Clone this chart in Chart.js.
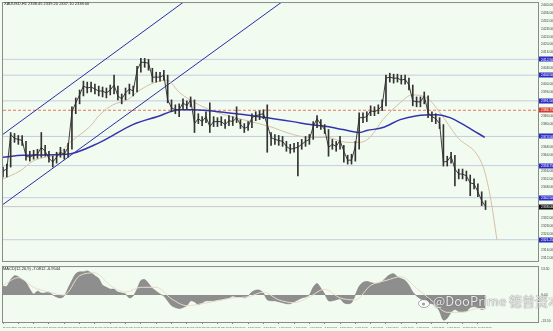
<!DOCTYPE html>
<html><head><meta charset="utf-8">
<script src="https://cdn.jsdelivr.net/npm/chart.js@4.4.1/dist/chart.umd.min.js"></script>
<style>
html,body{margin:0;padding:0;background:#f2fbef;width:553px;height:331px;overflow:hidden;position:relative;font-family:"Liberation Sans",sans-serif;}
canvas{position:absolute;left:0;}
#c1{top:0;}
#c2{top:264px;}
.lbl{position:absolute;font-size:4px;line-height:4px;color:#222;white-space:nowrap;}
#wm{position:absolute;left:418px;top:294px;font-family:"Noto Sans CJK SC","Liberation Sans",sans-serif;font-size:13px;line-height:14px;color:rgba(255,255,255,0.85);text-shadow:0 0 1px rgba(90,90,90,0.8),0 0 1px rgba(90,90,90,0.6);white-space:nowrap;}
#wm svg{vertical-align:-2px;margin-right:2px;}
</style></head>
<body>
<canvas id="c1" width="553" height="264"></canvas>
<canvas id="c2" width="553" height="67"></canvas>
<div class="lbl" style="left:4px;top:2px">XAUUSD,H1 2338.45 2339.20 2337.10 2338.00</div>
<div class="lbl" style="left:3px;top:267px">MACD(12,26,9) -7.0812 -6.9544</div>
<div id="wm"><svg width="13" height="11" viewBox="0 0 13 11"><ellipse cx="6" cy="6.5" rx="5.5" ry="4" fill="rgba(255,255,255,0.85)" stroke="rgba(90,90,90,0.7)" stroke-width="0.7"/><circle cx="5.5" cy="7" r="1.6" fill="rgba(120,120,120,0.7)"/><path d="M9 1.5 q2.5 0.5 2.8 3" stroke="rgba(90,90,90,0.7)" fill="none"/></svg>@DooPrime 德普资本</div>
<script>
// ---- price data (2-hour steps) ----
const closes=[2356,2357,2374.5,2372.5,2372,2371.5,2363.5,2363,2364,2364.5,
2368,2366,2362.5,2360.5,2363,2365.5,2364.5,2368,2386,2390.5,
2394.5,2399,2398,2398.5,2397.5,2396.5,2396.5,2395.5,2397,2399.5,
2394,2392.5,2395.5,2397.5,2396.5,2407,2411,2411,2410.5,2403.5,
2403.5,2403.5,2404.5,2392,2388,2387,2387,2390.5,2389,2392,
2380,2382.5,2381,2383.5,2378.5,2381,2381,2381,2379.5,2381.5,
2381,2383,2379.5,2377.5,2378.5,2383,2384,2384.5,2385,2379.5,
2373,2372,2371.5,2371,2368.5,2367,2367.5,2368,2369.5,2371,
2372,2378.5,2382.5,2379.5,2377,2368,2369.5,2368.5,2371.5,2366,
2361.5,2361.5,2368.5,2383,2383,2383.5,2386.5,2386,2387,2389,
2403,2403.5,2403,2403,2402,2402.5,2399.5,2391.5,2391,2391,
2394,2385.5,2383.5,2382.5,2380,2360.5,2361,2363.5,2357,2354.5,
2354.5,2353.5,2350,2349.5,2345.5,2341,2338];
const highs=[2358,2359.5,2375.5,2375,2374,2374,2371,2366,2366.5,2367,
2375.5,2369,2366,2363.5,2365.5,2368,2367,2370,2388.5,2393,
2397,2401.5,2401,2401,2400,2399,2398.5,2398,2399.5,2404.5,
2399,2395,2398,2400,2399,2409,2413,2413,2412.5,2408,
2406,2406,2407,2404.5,2392,2389.5,2390,2392.5,2391.5,2393.5,
2392,2385,2383.5,2386,2390.5,2383.5,2383,2383.5,2382,2384,
2383.5,2388.5,2382,2380,2381,2385,2386,2386.5,2387,2389.5,
2375.5,2374.5,2374,2373.5,2371,2369.5,2370,2370.5,2372,2373.5,
2374.5,2381,2384,2382,2379.5,2377,2372,2371,2373.5,2369,
2364,2364.5,2371,2385.5,2385.5,2386,2389,2388.5,2389.5,2392,
2404.5,2405.5,2405,2405,2404.5,2404.5,2403,2399.5,2393.5,2393.5,
2396,2394,2386,2385,2383,2379.5,2363.5,2365.5,2364,2357,
2357,2356,2354,2352,2349.5,2345.5,2341];
const lows=[2353,2353,2358,2370.5,2369.5,2369,2361.5,2361,2362,2362.5,
2363,2363.5,2360.5,2358,2360,2363,2362,2363,2367,2385,
2390,2394,2395.5,2396,2395,2394,2393.5,2393,2394.5,2395,
2392,2390,2392,2395,2394,2396,2406,2408.5,2407,2401,
2401,2401.5,2402,2390.5,2386,2385,2383.5,2387,2387,2388.5,
2375.5,2380,2379,2380.5,2375.5,2378.5,2378.5,2379,2377.5,2379,
2379,2380.5,2377.5,2375.5,2376.5,2378,2381.5,2382,2382.5,2365.5,
2369,2369.5,2369,2368.5,2366,2365,2365.5,2353.5,2367,2368.5,
2369.5,2372,2378,2377,2375,2363.5,2367,2366,2367,2360.5,
2359.5,2359.5,2361,2367,2380.5,2381,2384,2384,2385,2386.5,
2389,2401,2400.5,2401,2400,2400,2397,2389,2388.5,2388.5,
2390,2383,2381,2380,2377.5,2358.5,2358.5,2360,2348.5,2352,
2352,2351,2343.5,2347,2343,2338.5,2336.5];
// ---- moving averages (x in 2-hour bar units) ----
const maX=[0,5.2,16.7,25.3,33.9,40.2,46.2,49.6,58.5,67.1,75.7,80.2,84.6,88.8,93.2,95,99.2,103.7,108.1,113.3,116.7,121.1,125.8];
const maY=[2363,2364,2364.5,2370.5,2379.5,2383.5,2387,2387,2385.5,2383.5,2381,2379.5,2378.5,2377,2375.5,2376.5,2378,2382,2384,2384.5,2383,2378.5,2373];
const tanX=[0,4.4,7.8,14.9,17.5,22.7,25.3,28.7,32.4,35.8,39.2,42.8,46.2,54,62.7,69.7,75.7,80.2,84.6,89.8,93.2,95.8,99.2,103.7,106.8,110.7,114.1,118.5,125.3,127.2,129];
const tanY=[2352,2356,2361,2365.5,2370.5,2378.5,2384.5,2389.5,2392,2397,2400.5,2402,2395.5,2387,2382,2378.5,2374.5,2373,2373,2370.5,2370.5,2373,2382,2390.5,2394.5,2393,2385.5,2373.5,2358.5,2343.5,2321];
// ---- drawn objects ----
const hLevels=[2412.5,2404.5,2391.5,2373.5,2358.75,2342.5,2321.25];
const redLevel=2386.75;
const chanAX=[0,48], chanAY=[2374.6,2442.7];
const chanBX=[0,74], chanBY=[2339.1,2443.2];
// ---- oscillator ----
const osc=[4.5,4.5,8,10,9.5,8,6.5,3,0.5,2,
1,1,1.5,0,-1,-1.5,-0.5,3.5,7.5,11,
12,12,12.5,11.5,10,8.5,5,4,3,3,
1.5,1,0.5,-1.5,-0.5,3,7.5,8,6,3.5,
2,0.5,-0.5,-3,-5.5,-6.5,-7,-6.5,-5.5,-3,
-3.5,-5,-4,-3,-3,-3,-2.5,-2.5,-2,-1.5,
-0.5,-1,-1,-1.5,-0.5,1.5,2.5,2.5,1,-2.5,
-3,-3,-3.5,-4,-4.5,-4.5,-3.5,-2.5,-1.5,-1,
0,4,6,3.5,0.5,-3,-3,-2.5,-2,-4,
-4.5,-4,0,4.5,6.5,7,6.5,6,6,7,
9,10.5,11,9.5,8.5,7.5,5,1.5,-0.5,-2,
-3,-4,-4.5,-5.5,-8.5,-13,-12,-9,-7.5,-8.5,
-8.5,-8.5,-6.5,-6,-6.5,-7.5,-7];
const sigX=[0,4,8,12,16,20,24,28,32,36,40,44,48,52,56,60,64,68,72,76,80,84,88,92,96,100,104,108,112,116,120,124,126];
const sigY=[5,9,4,1.5,0,10,11.5,5,1.5,4,4,-2,-5.5,-4.5,-3,-1.5,-1,1.5,-2.5,-4,-1,3,-1.5,-2.5,5,7.5,9.5,3.5,-3,-9,-9,-7,-7];
const oscTicks=[13.5,0,-13.5];
// ---- time labels (every 4 bars = 8 hours) ----
const xLabels=["27 May 2024","27 May 08:00","27 May 16:00","28 May 00:00","28 May 08:00","28 May 16:00","29 May 00:00","29 May 08:00","29 May 16:00","30 May 00:00","30 May 08:00","30 May 16:00","31 May 00:00","31 May 08:00","31 May 16:00","3 Jun 00:00","3 Jun 08:00","3 Jun 16:00","4 Jun 00:00","4 Jun 08:00","4 Jun 16:00","5 Jun 00:00","5 Jun 08:00","5 Jun 16:00","6 Jun 00:00","6 Jun 08:00","6 Jun 16:00","7 Jun 00:00","7 Jun 08:00","7 Jun 16:00","10 Jun 00:00","10 Jun 08:00"];
const xLabelStep=4;
const yMin=2310.5, yMax=2441, yStep=4, xMax=139.7;

const pts=(xs,ys)=>xs.map((x,i)=>({x:x,y:ys[i]}));
const FONT='"Liberation Sans"';
const frame={id:'frame',afterDraw(c){const a=c.chartArea,ctx=c.ctx;ctx.save();ctx.strokeStyle='#8a8a8a';ctx.lineWidth=1;ctx.strokeRect(a.left-0.5,a.top-0.5,a.right-a.left+1,a.bottom-a.top+1);ctx.restore();}};
const lastClose=closes[closes.length-1];
const marks={id:'marks',afterDraw(c){const s=c.scales.y,ctx=c.ctx;ctx.save();ctx.font='3.4px '+FONT;ctx.textBaseline='middle';ctx.textAlign='left';
 const items=hLevels.map(v=>[v,'#2d2dc2']).concat([[redLevel,'#d63b2b'],[lastClose,'#111111']]);
 items.forEach(([v,col])=>{const y=s.getPixelForValue(v);ctx.fillStyle=col;ctx.fillRect(539,Math.round(y)-2.5,14,5);ctx.fillStyle='#ffffff';ctx.fillText(v.toFixed(2),541,y+0.2);});
 ctx.restore();}};
const specials=hLevels.concat([redLevel,lastClose]);

const lineDs=(data,color,w,extra)=>Object.assign({type:'line',data:data,borderColor:color,borderWidth:w,pointRadius:0,fill:false,tension:0},extra||{});
const ds1=[
 lineDs(closes.map((v,i)=>({x:i,y:v})),'#2a2a2a',0.9),
 {type:'bar',data:closes.map((v,i)=>({x:i,y:[lows[i],highs[i]]})),backgroundColor:'#333333',borderWidth:0,barThickness:1,grouped:false},
 lineDs(pts(maX,maY),'#3434b0',1.5,{cubicInterpolationMode:'monotone'}),
 lineDs(pts(tanX,tanY),'#d4bfa4',1,{cubicInterpolationMode:'monotone'}),
 lineDs(pts(chanAX,chanAY),'#2c2ca6',1),
 lineDs(pts(chanBX,chanBY),'#2c2ca6',1),
 lineDs([{x:0,y:redLevel},{x:xMax,y:redLevel}],'#e27a5e',1,{borderDash:[3,2]}),
 lineDs([{x:0,y:lastClose},{x:xMax,y:lastClose}],'#c8c8c8',1)
].concat(hLevels.map(v=>lineDs([{x:0,y:v},{x:xMax,y:v}],'#c3cde2',1)));

Chart.defaults.font.family=FONT;
new Chart(document.getElementById('c1'),{
 type:'line',data:{datasets:ds1},
 options:{responsive:false,animation:false,events:[],
  layout:{padding:{left:3,top:2,right:0,bottom:1}},
  plugins:{legend:{display:false},tooltip:{enabled:false}},
  scales:{
   x:{type:'linear',min:0,max:xMax,display:false,offset:false},
   y:{type:'linear',position:'right',min:yMin,max:yMax,
      afterFit(s){s.width=15;},
      afterBuildTicks(s){const t=[];for(let v=2312;v<=2440;v+=yStep){if(!specials.some(p=>Math.abs(p-v)<2.6))t.push({value:v});}s.ticks=t;},
      grid:{display:false,drawTicks:true,tickLength:2},border:{display:false},
      ticks:{font:{size:3.4},color:'#444',padding:1,autoSkip:false,callback:v=>Number(v).toFixed(2)}}
  }},
 plugins:[frame,marks]
});

new Chart(document.getElementById('c2'),{
 type:'line',
 data:{datasets:[
  lineDs(pts(sigX,sigY),'#e6dccb',1,{cubicInterpolationMode:'monotone'}),
  {type:'line',data:osc.map((v,i)=>({x:i,y:v})),borderColor:'#7d7d7d',borderWidth:0.6,backgroundColor:'#8e8e8e',pointRadius:0,fill:'origin',tension:0.3}
 ]},
 options:{responsive:false,animation:false,events:[],
  layout:{padding:{left:3,top:1,right:0,bottom:0}},
  plugins:{legend:{display:false},tooltip:{enabled:false}},
  scales:{
   x:{type:'linear',min:0,max:xMax,offset:false,
      afterFit(s){s.height=9;},
      afterBuildTicks(s){s.ticks=xLabels.map((l,k)=>({value:k*xLabelStep}));},
      grid:{display:true,drawOnChartArea:false,drawTicks:true,tickLength:2,color:'#888'},border:{display:false},
      ticks:{font:{size:2.4},color:'#555',padding:1.5,autoSkip:false,maxRotation:0,minRotation:0,align:'start',
        callback:(v,i)=>xLabels[i]}},
   y:{type:'linear',position:'right',min:-14,max:14.5,
      afterFit(s){s.width=15;},
      afterBuildTicks(s){s.ticks=oscTicks.map(v=>({value:v}));},
      grid:{display:false,drawTicks:true,tickLength:2},border:{display:false},
      ticks:{font:{size:3.4},color:'#444',padding:1,autoSkip:false,callback:v=>Number(v).toFixed(2)}}
  }},
 plugins:[frame]
});
</script>
</body></html>
